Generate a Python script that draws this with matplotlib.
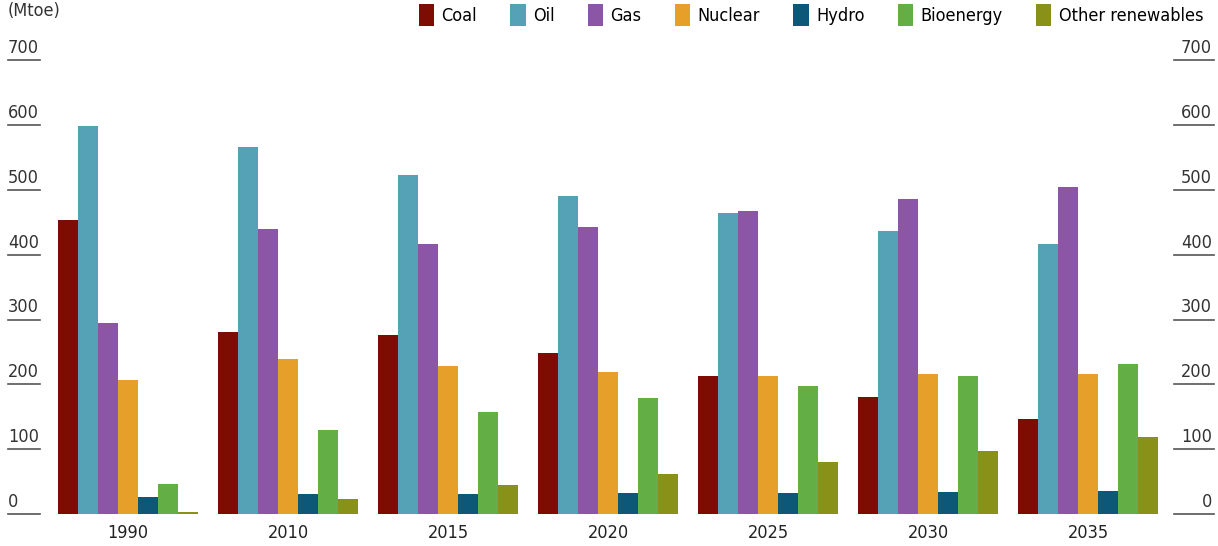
import matplotlib.pyplot as plt
import numpy as np
from matplotlib.transforms import blended_transform_factory

plt.rcParams['font.family'] = ['DejaVu Sans']
plt.rcParams['font.stretch'] = 'condensed'

years = ['1990', '2010', '2015', '2020', '2025', '2030', '2035']
fuels = ['Coal', 'Oil', 'Gas', 'Nuclear', 'Hydro', 'Bioenergy', 'Other renewables']

coal = [454, 281, 276, 248, 213, 180, 146]
oil = [599, 567, 523, 491, 464, 437, 417]
gas = [295, 440, 417, 443, 468, 486, 505]
nuclear = [207, 239, 228, 219, 213, 216, 216]
hydro = [26, 31, 31, 32, 32, 34, 35]
bioenergy = [46, 130, 157, 179, 197, 213, 231]
other_ren = [3, 23, 45, 62, 80, 97, 119]

yticks = [0, 100, 200, 300, 400, 500, 600, 700]

colors = ['#7d0d02', '#55a2b6', '#8b56a6', '#e6a02a', '#0d5878', '#64af45', '#8a9118']

series = [coal, oil, gas, nuclear, hydro, bioenergy, other_ren]

fig = plt.figure(figsize=(12.18, 5.46), dpi=100)
ax = fig.add_axes([50/1218, 1-514/546, 1115/1218, (514-60.4)/546])

x = np.arange(len(years))
w = 0.125
for k, (vals, name, c) in enumerate(zip(series, fuels, colors)):
    ax.bar(x - 0.4375 + w*(k+0.5), vals, width=w, color=c, label=name, linewidth=0)

ax.set_ylim(0, 700)
ax.set_xlim(-0.4875, 6.48)
for s in ax.spines.values():
    s.set_visible(False)
ax.set_yticks([])
ax.set_xticks(x)
ax.set_xticklabels(years, fontsize=13, color='#222222')
ax.tick_params(axis='x', length=0, pad=7)

# y labels on both sides, each sitting on a short underline
tr = blended_transform_factory(fig.transFigure, ax.transData)
for v in yticks:
    ax.plot([8/1218, 40/1218], [v, v], transform=tr, color='#555555', lw=1.2, clip_on=False)
    ax.plot([1174/1218, 1214/1218], [v, v], transform=tr, color='#555555', lw=1.2, clip_on=False)
    ax.text(8/1218, v + 5, str(v), transform=tr, fontsize=13, color='#333333', ha='left', va='bottom')
    ax.text(1212/1218, v + 5, str(v), transform=tr, fontsize=13, color='#333333', ha='right', va='bottom')

fig.text(8/1218, 1 - 2/546, '(Mtoe)', fontsize=13, color='#333333', ha='left', va='top')

fig.legend(loc='upper right', bbox_to_anchor=(1214/1218, 1.012), ncol=7, frameon=False,
           fontsize=13, handlelength=0.85, handleheight=1.5, handletextpad=0.4,
           columnspacing=1.85, borderaxespad=0.2)

plt.savefig('out.png', dpi=100)
